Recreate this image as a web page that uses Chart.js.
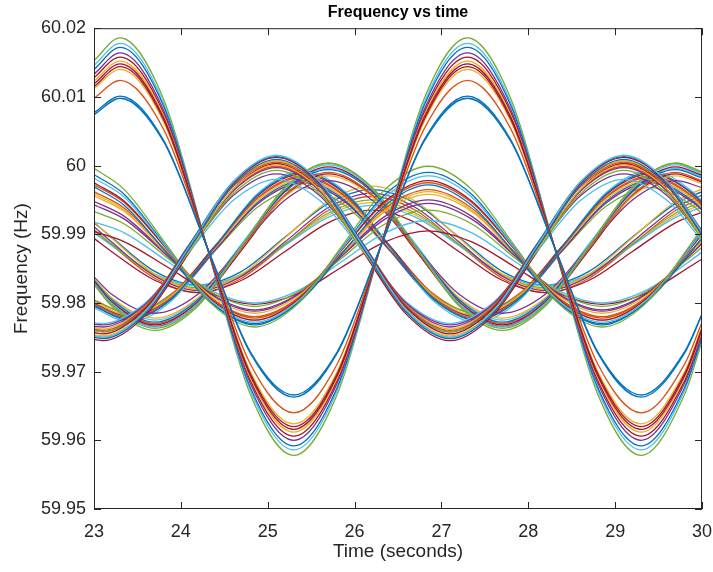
<!DOCTYPE html>
<html>
<head>
<meta charset="utf-8">
<script src="https://cdn.jsdelivr.net/npm/chart.js@4.4.0/dist/chart.umd.min.js"></script>
<style>
  body { margin: 0; background: #fff; }
</style>
</head>
<body>
<canvas id="freqChart" width="713" height="572"></canvas>
<script>
// time stamps (seconds) for each family of traces
const timesA = [23, 23.3, 23.8, 24.3, 24.8, 25.3, 25.8, 26.3, 26.8, 27.3, 27.8, 28.3, 28.8, 29.3, 29.8, 30];
const timesB = [23, 23.1, 23.6, 24.1, 24.6, 25.1, 25.6, 26.1, 26.6, 27.1, 27.6, 28.1, 28.6, 29.1, 29.6, 30];
const timesC = [23, 23.2, 23.7, 24.2, 24.7, 25.2, 25.7, 26.2, 26.7, 27.2, 27.7, 28.2, 28.7, 29.2, 29.7, 30];
const timesD = [23, 23.35, 23.85, 24.35, 24.85, 25.35, 25.85, 26.35, 26.85, 27.35, 27.85, 28.35, 28.85, 29.35, 29.85, 30];
const timesF = [23, 23.4, 23.9, 24.4, 24.9, 25.4, 25.9, 26.4, 26.9, 27.4, 27.9, 28.4, 28.9, 29.4, 29.9, 30];

// frequency (Hz) - large swing buses
const freqA = [
  [60.0074, 60.0098, 60.0035, 59.9882, 59.9729, 59.9666, 59.9729, 59.9882, 60.0035, 60.0098, 60.0035, 59.9882, 59.9729, 59.9666, 59.9729, 59.9784],
  [60.0077, 60.0101, 60.0037, 59.9882, 59.9727, 59.9663, 59.9727, 59.9882, 60.0037, 60.0101, 60.0037, 59.9882, 59.9727, 59.9663, 59.9727, 59.9783],
  [60.0098, 60.0124, 60.0053, 59.9882, 59.9711, 59.9640, 59.9711, 59.9882, 60.0053, 60.0124, 60.0053, 59.9882, 59.9711, 59.9640, 59.9711, 59.9772],
  [60.0115, 60.0144, 60.0067, 59.9882, 59.9697, 59.9620, 59.9697, 59.9882, 60.0067, 60.0144, 60.0067, 59.9882, 59.9697, 59.9620, 59.9697, 59.9763],
  [60.0119, 60.0148, 60.0070, 59.9882, 59.9694, 59.9616, 59.9694, 59.9882, 60.0070, 60.0148, 60.0070, 59.9882, 59.9694, 59.9616, 59.9694, 59.9761],
  [60.0123, 60.0152, 60.0073, 59.9882, 59.9691, 59.9612, 59.9691, 59.9882, 60.0073, 60.0152, 60.0073, 59.9882, 59.9691, 59.9612, 59.9691, 59.9759],
  [60.0133, 60.0164, 60.0081, 59.9882, 59.9683, 59.9600, 59.9683, 59.9882, 60.0081, 60.0164, 60.0081, 59.9882, 59.9683, 59.9600, 59.9683, 59.9754],
  [60.0140, 60.0172, 60.0087, 59.9882, 59.9677, 59.9592, 59.9677, 59.9882, 60.0087, 60.0172, 60.0087, 59.9882, 59.9677, 59.9592, 59.9677, 59.9750],
  [60.0146, 60.0178, 60.0091, 59.9882, 59.9673, 59.9586, 59.9673, 59.9882, 60.0091, 60.0178, 60.0091, 59.9882, 59.9673, 59.9586, 59.9673, 59.9748],
  [60.0153, 60.0186, 60.0097, 59.9882, 59.9667, 59.9578, 59.9667, 59.9882, 60.0097, 60.0186, 60.0097, 59.9882, 59.9667, 59.9578, 59.9667, 59.9744],
  [60.0112, 60.0140, 60.0064, 59.9882, 59.9700, 59.9624, 59.9700, 59.9882, 60.0064, 60.0140, 60.0064, 59.9882, 59.9700, 59.9624, 59.9700, 59.9765],
  [60.0128, 60.0158, 60.0077, 59.9882, 59.9687, 59.9606, 59.9687, 59.9882, 60.0077, 60.0158, 60.0077, 59.9882, 59.9687, 59.9606, 59.9687, 59.9757]
];

const freqB = [
  [59.9752, 59.9750, 59.9789, 59.9883, 59.9976, 60.0015, 59.9976, 59.9883, 59.9789, 59.9750, 59.9789, 59.9883, 59.9976, 60.0015, 59.9976, 59.9903],
  [59.9757, 59.9755, 59.9793, 59.9884, 59.9974, 60.0012, 59.9974, 59.9884, 59.9793, 59.9755, 59.9793, 59.9884, 59.9974, 60.0012, 59.9974, 59.9904],
  [59.9750, 59.9748, 59.9786, 59.9879, 59.9971, 60.0009, 59.9971, 59.9879, 59.9786, 59.9748, 59.9786, 59.9879, 59.9971, 60.0009, 59.9971, 59.9899],
  [59.9762, 59.9760, 59.9796, 59.9883, 59.9969, 60.0005, 59.9969, 59.9883, 59.9796, 59.9760, 59.9796, 59.9883, 59.9969, 60.0005, 59.9969, 59.9902],
  [59.9754, 59.9752, 59.9789, 59.9877, 59.9965, 60.0001, 59.9965, 59.9877, 59.9789, 59.9752, 59.9789, 59.9877, 59.9965, 60.0001, 59.9965, 59.9896],
  [59.9766, 59.9765, 59.9799, 59.9881, 59.9963, 59.9997, 59.9963, 59.9881, 59.9799, 59.9765, 59.9799, 59.9881, 59.9963, 59.9997, 59.9963, 59.9899],
  [59.9760, 59.9758, 59.9792, 59.9876, 59.9959, 59.9993, 59.9959, 59.9876, 59.9792, 59.9758, 59.9792, 59.9876, 59.9959, 59.9993, 59.9959, 59.9894],
  [59.9771, 59.9770, 59.9801, 59.9875, 59.9949, 59.9980, 59.9949, 59.9875, 59.9801, 59.9770, 59.9801, 59.9875, 59.9949, 59.9980, 59.9949, 59.9891],
  [59.9747, 59.9745, 59.9783, 59.9874, 59.9965, 60.0003, 59.9965, 59.9874, 59.9783, 59.9745, 59.9783, 59.9874, 59.9965, 60.0003, 59.9965, 59.9894],
  [59.9760, 59.9758, 59.9795, 59.9886, 59.9976, 60.0013, 59.9976, 59.9886, 59.9795, 59.9758, 59.9795, 59.9886, 59.9976, 60.0013, 59.9976, 59.9905],
  [59.9752, 59.9750, 59.9787, 59.9875, 59.9963, 59.9999, 59.9963, 59.9875, 59.9787, 59.9750, 59.9787, 59.9875, 59.9963, 59.9999, 59.9963, 59.9894],
  [59.9764, 59.9762, 59.9798, 59.9885, 59.9971, 60.0007, 59.9971, 59.9885, 59.9798, 59.9762, 59.9798, 59.9885, 59.9971, 60.0007, 59.9971, 59.9904],
  [59.9769, 59.9768, 59.9800, 59.9878, 59.9956, 59.9988, 59.9956, 59.9878, 59.9800, 59.9768, 59.9800, 59.9878, 59.9956, 59.9988, 59.9956, 59.9895]
];

const freqC = [
  [59.9827, 59.9796, 59.9760, 59.9796, 59.9882, 59.9968, 60.0004, 59.9968, 59.9882, 59.9796, 59.9760, 59.9796, 59.9882, 59.9968, 60.0004, 59.9991],
  [59.9829, 59.9800, 59.9765, 59.9800, 59.9883, 59.9966, 60.0001, 59.9966, 59.9883, 59.9800, 59.9765, 59.9800, 59.9883, 59.9966, 60.0001, 59.9988],
  [59.9831, 59.9802, 59.9768, 59.9802, 59.9883, 59.9964, 59.9998, 59.9964, 59.9883, 59.9802, 59.9768, 59.9802, 59.9883, 59.9964, 59.9998, 59.9986],
  [59.9833, 59.9805, 59.9772, 59.9805, 59.9883, 59.9962, 59.9994, 59.9962, 59.9883, 59.9805, 59.9772, 59.9805, 59.9883, 59.9962, 59.9994, 59.9982],
  [59.9830, 59.9802, 59.9770, 59.9802, 59.9880, 59.9958, 59.9990, 59.9958, 59.9880, 59.9802, 59.9770, 59.9802, 59.9880, 59.9958, 59.9990, 59.9978],
  [59.9835, 59.9808, 59.9778, 59.9808, 59.9882, 59.9955, 59.9985, 59.9955, 59.9882, 59.9808, 59.9778, 59.9808, 59.9882, 59.9955, 59.9985, 59.9974],
  [59.9838, 59.9813, 59.9785, 59.9813, 59.9882, 59.9950, 59.9978, 59.9950, 59.9882, 59.9813, 59.9785, 59.9813, 59.9882, 59.9950, 59.9978, 59.9968],
  [59.9828, 59.9798, 59.9763, 59.9798, 59.9883, 59.9968, 60.0003, 59.9968, 59.9883, 59.9798, 59.9763, 59.9798, 59.9883, 59.9968, 60.0003, 59.9990],
  [59.9835, 59.9807, 59.9775, 59.9807, 59.9886, 59.9964, 59.9996, 59.9964, 59.9886, 59.9807, 59.9775, 59.9807, 59.9886, 59.9964, 59.9996, 59.9984],
  [59.9827, 59.9799, 59.9766, 59.9799, 59.9877, 59.9956, 59.9988, 59.9956, 59.9877, 59.9799, 59.9766, 59.9799, 59.9877, 59.9956, 59.9988, 59.9976]
];

const freqD = [
  [59.9996, 59.9965, 59.9882, 59.9799, 59.9765, 59.9799, 59.9882, 59.9965, 59.9999, 59.9965, 59.9882, 59.9799, 59.9765, 59.9799, 59.9882, 59.9909],
  [59.9982, 59.9954, 59.9878, 59.9803, 59.9772, 59.9803, 59.9878, 59.9954, 59.9985, 59.9954, 59.9878, 59.9803, 59.9772, 59.9803, 59.9878, 59.9903],
  [59.9975, 59.9948, 59.9877, 59.9805, 59.9775, 59.9805, 59.9877, 59.9948, 59.9978, 59.9948, 59.9877, 59.9805, 59.9775, 59.9805, 59.9877, 59.9900],
  [59.9969, 59.9942, 59.9871, 59.9800, 59.9770, 59.9800, 59.9871, 59.9942, 59.9972, 59.9942, 59.9871, 59.9800, 59.9770, 59.9800, 59.9871, 59.9895],
  [59.9962, 59.9938, 59.9873, 59.9807, 59.9780, 59.9807, 59.9873, 59.9938, 59.9965, 59.9938, 59.9873, 59.9807, 59.9780, 59.9807, 59.9873, 59.9894],
  [59.9956, 59.9933, 59.9872, 59.9810, 59.9785, 59.9810, 59.9872, 59.9933, 59.9958, 59.9933, 59.9872, 59.9810, 59.9785, 59.9810, 59.9872, 59.9892],
  [59.9943, 59.9922, 59.9868, 59.9813, 59.9790, 59.9813, 59.9868, 59.9922, 59.9945, 59.9922, 59.9868, 59.9813, 59.9790, 59.9813, 59.9868, 59.9886],
  [59.9933, 59.9915, 59.9865, 59.9816, 59.9795, 59.9816, 59.9865, 59.9915, 59.9935, 59.9915, 59.9865, 59.9816, 59.9795, 59.9816, 59.9865, 59.9881],
  [59.9918, 59.9902, 59.9860, 59.9818, 59.9800, 59.9818, 59.9860, 59.9902, 59.9920, 59.9902, 59.9860, 59.9818, 59.9800, 59.9818, 59.9860, 59.9874],
  [59.9904, 59.9889, 59.9852, 59.9814, 59.9798, 59.9814, 59.9852, 59.9889, 59.9905, 59.9889, 59.9852, 59.9814, 59.9798, 59.9814, 59.9852, 59.9864],
  [59.9987, 59.9958, 59.9879, 59.9801, 59.9768, 59.9801, 59.9879, 59.9958, 59.9990, 59.9958, 59.9879, 59.9801, 59.9768, 59.9801, 59.9879, 59.9905],
  [59.9972, 59.9946, 59.9877, 59.9807, 59.9778, 59.9807, 59.9877, 59.9946, 59.9975, 59.9946, 59.9877, 59.9807, 59.9778, 59.9807, 59.9877, 59.9900],
  [59.9959, 59.9935, 59.9869, 59.9802, 59.9775, 59.9802, 59.9869, 59.9935, 59.9962, 59.9935, 59.9869, 59.9802, 59.9775, 59.9802, 59.9869, 59.9890],
  [59.9948, 59.9926, 59.9869, 59.9812, 59.9788, 59.9812, 59.9869, 59.9926, 59.9950, 59.9926, 59.9869, 59.9812, 59.9788, 59.9812, 59.9869, 59.9888]
];

// uses timesC
const freqE = [
  [59.9918, 59.9895, 59.9842, 59.9820, 59.9842, 59.9895, 59.9948, 59.9970, 59.9948, 59.9895, 59.9842, 59.9820, 59.9842, 59.9895, 59.9948, 59.9966],
  [59.9911, 59.9889, 59.9839, 59.9818, 59.9839, 59.9889, 59.9939, 59.9960, 59.9939, 59.9889, 59.9839, 59.9818, 59.9839, 59.9889, 59.9939, 59.9957],
  [59.9906, 59.9886, 59.9841, 59.9822, 59.9841, 59.9886, 59.9931, 59.9950, 59.9931, 59.9886, 59.9841, 59.9822, 59.9841, 59.9886, 59.9931, 59.9947],
  [59.9902, 59.9884, 59.9842, 59.9825, 59.9842, 59.9884, 59.9925, 59.9942, 59.9925, 59.9884, 59.9842, 59.9825, 59.9842, 59.9884, 59.9925, 59.9939],
  [59.9894, 59.9875, 59.9833, 59.9815, 59.9833, 59.9875, 59.9917, 59.9935, 59.9917, 59.9875, 59.9833, 59.9815, 59.9833, 59.9875, 59.9917, 59.9932],
  [59.9917, 59.9896, 59.9846, 59.9826, 59.9846, 59.9896, 59.9945, 59.9965, 59.9945, 59.9896, 59.9846, 59.9826, 59.9846, 59.9896, 59.9945, 59.9962],
  [59.9907, 59.9885, 59.9836, 59.9815, 59.9836, 59.9885, 59.9935, 59.9955, 59.9935, 59.9885, 59.9836, 59.9815, 59.9836, 59.9885, 59.9935, 59.9952],
  [59.9903, 59.9884, 59.9840, 59.9822, 59.9840, 59.9884, 59.9928, 59.9946, 59.9928, 59.9884, 59.9840, 59.9822, 59.9840, 59.9884, 59.9928, 59.9943]
];

const freqF = [
  [59.9796, 59.9775, 59.9807, 59.9883, 59.9959, 59.9990, 59.9959, 59.9883, 59.9807, 59.9775, 59.9807, 59.9883, 59.9959, 59.9990, 59.9959, 59.9946],
  [59.9798, 59.9778, 59.9808, 59.9882, 59.9955, 59.9985, 59.9955, 59.9882, 59.9808, 59.9778, 59.9808, 59.9882, 59.9955, 59.9985, 59.9955, 59.9942],
  [59.9801, 59.9782, 59.9811, 59.9881, 59.9951, 59.9980, 59.9951, 59.9881, 59.9811, 59.9782, 59.9811, 59.9881, 59.9951, 59.9980, 59.9951, 59.9939],
  [59.9799, 59.9780, 59.9809, 59.9878, 59.9946, 59.9975, 59.9946, 59.9878, 59.9809, 59.9780, 59.9809, 59.9878, 59.9946, 59.9975, 59.9946, 59.9935],
  [59.9803, 59.9785, 59.9812, 59.9877, 59.9941, 59.9968, 59.9941, 59.9877, 59.9812, 59.9785, 59.9812, 59.9877, 59.9941, 59.9968, 59.9941, 59.9930],
  [59.9793, 59.9772, 59.9804, 59.9883, 59.9961, 59.9993, 59.9961, 59.9883, 59.9804, 59.9772, 59.9804, 59.9883, 59.9961, 59.9993, 59.9961, 59.9947],
  [59.9800, 59.9780, 59.9811, 59.9884, 59.9958, 59.9988, 59.9958, 59.9884, 59.9811, 59.9780, 59.9811, 59.9884, 59.9958, 59.9988, 59.9958, 59.9945],
  [59.9795, 59.9776, 59.9806, 59.9877, 59.9948, 59.9978, 59.9948, 59.9877, 59.9806, 59.9776, 59.9806, 59.9877, 59.9948, 59.9978, 59.9948, 59.9936],
  [59.9804, 59.9785, 59.9814, 59.9884, 59.9954, 59.9983, 59.9954, 59.9884, 59.9814, 59.9785, 59.9814, 59.9884, 59.9954, 59.9983, 59.9954, 59.9942]
];

const xTicks = [23, 24, 25, 26, 27, 28, 29, 30];
const yTicks = [59.95, 59.96, 59.97, 59.98, 59.99, 60, 60.01, 60.02];

// matlab default line colours
const lineColors = ['#0072BD', '#D95319', '#EDB120', '#7E2F8E', '#77AC30', '#4DBEEE', '#A2142F'];
const colorsA = [0, 0, 1, 6, 6, 2, 3, 0, 5, 4, 2, 6];

let datasets = [];
let n = 0;

function addGroup(times, group, colorIdx) {
  group.forEach(function (vals, i) {
    let c = colorIdx ? lineColors[colorIdx[i]] : lineColors[n % lineColors.length];
    datasets.push({
      data: vals.map(function (v, k) { return { x: times[k], y: v }; }),
      borderColor: c,
      borderWidth: 1.3,
      pointRadius: 0,
      fill: false,
      cubicInterpolationMode: 'monotone'
    });
    n++;
  });
}

// first dataset ends up on top
addGroup(timesA, freqA, colorsA);
addGroup(timesB, freqB);
addGroup(timesD, freqD);
addGroup(timesC, freqC);
addGroup(timesF, freqF);
addGroup(timesC, freqE);

const axisColor = '#262626';
const fontFamily = '"Liberation Sans", Arial, Helvetica, sans-serif';
const tickFont = { family: fontFamily, size: 18 };
const labelFont = { family: fontFamily, size: 19 };

// matlab style box with inward ticks on all four sides
const boxPlugin = {
  id: 'box',
  afterDatasetsDraw(chart) {
    const { ctx, chartArea, scales } = chart;
    const { left, right, top, bottom } = chartArea;
    ctx.save();
    ctx.strokeStyle = axisColor;
    ctx.lineWidth = 1;
    ctx.strokeRect(left + 0.5, top + 0.5, right - left - 1, bottom - top - 1);
    ctx.beginPath();
    xTicks.forEach(function (t) {
      let px = Math.round(scales.x.getPixelForValue(t)) + 0.5;
      ctx.moveTo(px, bottom); ctx.lineTo(px, bottom - 7);
      ctx.moveTo(px, top); ctx.lineTo(px, top + 7);
    });
    yTicks.forEach(function (v) {
      let py = Math.round(scales.y.getPixelForValue(v)) + 0.5;
      ctx.moveTo(left, py); ctx.lineTo(left + 7, py);
      ctx.moveTo(right, py); ctx.lineTo(right - 7, py);
    });
    ctx.stroke();
    ctx.restore();
  }
};

let ctx = document.getElementById('freqChart').getContext('2d');
let chart = new Chart(ctx, {
  type: 'line',
  data: { datasets: datasets },
  plugins: [boxPlugin],
  options: {
    responsive: false,
    animation: false,
    devicePixelRatio: 1,
    layout: { padding: { right: 11 } },
    plugins: {
      legend: { display: false },
      tooltip: { enabled: false },
      title: {
        display: true,
        text: 'Frequency vs time',
        fullSize: false,
        color: '#000',
        font: { family: fontFamily, size: 16, weight: 'bold', lineHeight: 1.2 },
        padding: { top: 3, bottom: 6 }
      }
    },
    scales: {
      x: {
        type: 'linear',
        min: 23,
        max: 30,
        afterFit: function (scale) {
          scale.height = 63;
          scale.paddingLeft = 0;
          scale.paddingRight = 0;
        },
        afterBuildTicks: function (scale) { scale.ticks = xTicks.map(function (v) { return { value: v }; }); },
        ticks: { color: axisColor, font: tickFont, padding: 12, maxRotation: 0 },
        grid: { display: false, drawTicks: false },
        border: { display: false },
        title: { display: true, text: 'Time (seconds)', color: axisColor, font: labelFont, padding: { top: 0, bottom: 9 } }
      },
      y: {
        type: 'linear',
        min: 59.95,
        max: 60.02,
        afterFit: function (scale) {
          scale.width = 94;
          scale.paddingTop = 0;
          scale.paddingBottom = 0;
        },
        afterBuildTicks: function (scale) { scale.ticks = yTicks.map(function (v) { return { value: v }; }); },
        ticks: {
          color: axisColor,
          font: tickFont,
          padding: 8,
          callback: function (v) { return String(Number(v.toFixed(2))); }
        },
        grid: { display: false, drawTicks: false },
        border: { display: false },
        title: { display: true, text: 'Frequency (Hz)', color: axisColor, font: labelFont, padding: { top: 10, bottom: 0 } }
      }
    }
  }
});
</script>
</body>
</html>
